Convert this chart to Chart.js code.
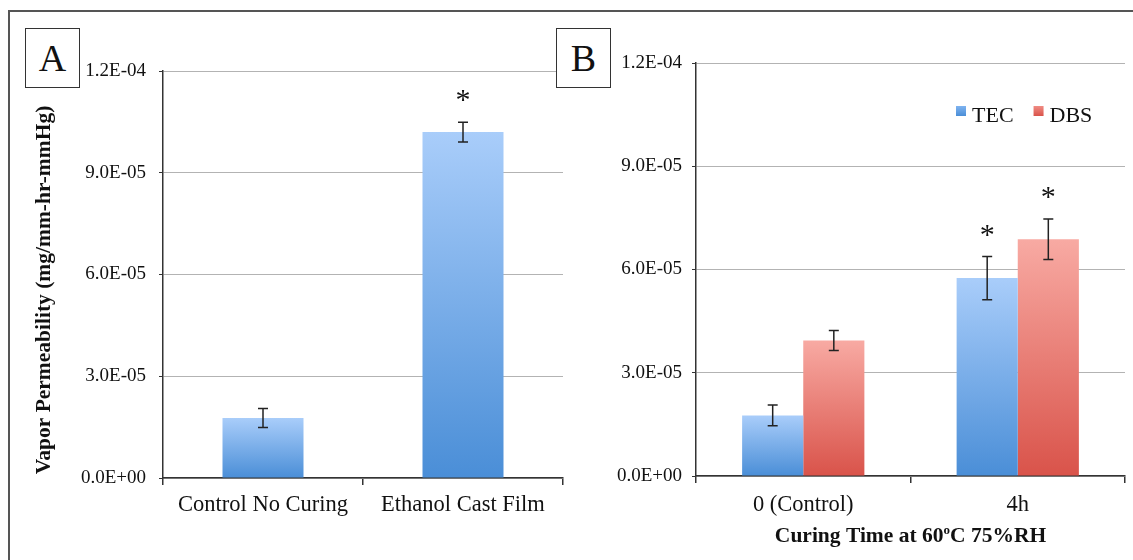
<!DOCTYPE html>
<html>
<head>
<meta charset="utf-8">
<script src="https://cdn.jsdelivr.net/npm/chart.js@4.4.1/dist/chart.umd.min.js"></script>
<style>
  html, body { margin: 0; padding: 0; background: #fff; width: 1133px; height: 560px; overflow: hidden; }
  #frame { position: absolute; left: 8px; top: 10px; width: 1140px; height: 600px; border: 2px solid #555; box-sizing: border-box; }
  .panel-tag { position: absolute; top: 28px; width: 55px; height: 60px; border: 1.5px solid #333; box-sizing: border-box;
               font-family: "Liberation Serif", serif; font-size: 38px; line-height: 58px; text-align: center; color: #111; background: #fff; }
  canvas { position: absolute; top: 0; }
</style>
</head>
<body>
<div id="frame"></div>
<canvas id="chartA" width="570" height="560" style="left:0px"></canvas>
<canvas id="chartB" width="558" height="560" style="left:575px"></canvas>
<div class="panel-tag" style="left:25px">A</div>
<div class="panel-tag" style="left:556px">B</div>

<script>
// ---- Panel A: film preparation ----
const categoriesA = ['Control No Curing', 'Ethanol Cast Film'];
const valuesA = [1.77e-5, 1.02e-4];
const errorsA = [2.8e-6, 2.9e-6];
const starsA = [false, true];

// ---- Panel B: curing time, per plasticizer ----
const categoriesB = ['0 (Control)', '4h'];
const seriesNamesB = ['TEC', 'DBS'];
const tecValues = [1.76e-5, 5.75e-5];
const tecErrors = [3.0e-6, 6.3e-6];
const tecStars = [false, true];
const dbsValues = [3.94e-5, 6.88e-5];
const dbsErrors = [2.9e-6, 5.9e-6];
const dbsStars = [false, true];

// ---- shared axis ----
const yTickValues = [0, 3e-5, 6e-5, 9e-5, 1.2e-4];
const yTitle = 'Vapor Permeability (mg/mm-hr-mmHg)';
const xTitleB = ['Curing Time at 60', 'o', 'C 75%RH'];

const SERIF = '"Liberation Serif", "Times New Roman", serif';
const BLUE = ['#a9cdfa', '#4a8ed7'];
const RED = ['#f8aaa3', '#d9534a'];

function sci(v) {
  const [m, e] = v.toExponential(1).split('e');
  const n = parseInt(e, 10);
  return m + 'E' + (n < 0 ? '-' : '+') + String(Math.abs(n)).padStart(2, '0');
}

function barGradient(colors) {
  return (c) => {
    const chart = c.chart;
    if (!chart.chartArea || c.type !== 'data') return colors[1];
    const y = chart.scales.y;
    const top = y.getPixelForValue(c.raw);
    const base = y.getPixelForValue(0);
    const g = chart.ctx.createLinearGradient(0, top, 0, base);
    g.addColorStop(0, colors[0]);
    g.addColorStop(1, colors[1]);
    return g;
  };
}

// error bars with caps, plus significance asterisks
const errorBarPlugin = {
  id: 'errorBars',
  afterDatasetsDraw(chart) {
    const ctx = chart.ctx;
    const y = chart.scales.y;
    chart.data.datasets.forEach((ds, i) => {
      const meta = chart.getDatasetMeta(i);
      meta.data.forEach((bar, j) => {
        const v = ds.data[j], e = ds.errors[j];
        const x = bar.x;
        const yt = y.getPixelForValue(v + e);
        const yb = y.getPixelForValue(v - e);
        ctx.save();
        ctx.strokeStyle = '#222';
        ctx.lineWidth = 1.5;
        ctx.beginPath();
        ctx.moveTo(x, yt); ctx.lineTo(x, yb);
        ctx.moveTo(x - 5, yt); ctx.lineTo(x + 5, yt);
        ctx.moveTo(x - 5, yb); ctx.lineTo(x + 5, yb);
        ctx.stroke();
        if (ds.stars[j]) {
          const size = 30;
          ctx.fillStyle = '#111';
          ctx.font = size + 'px ' + SERIF;
          ctx.textAlign = 'center';
          ctx.textBaseline = 'alphabetic';
          const cy = yt - 27;
          ctx.fillText('*', x, cy + 0.47 * size);
        }
        ctx.restore();
      });
    });
  }
};

function yScale(width, padding) {
  return {
    min: 0, max: 1.2e-4,
    afterBuildTicks: (s) => { s.ticks = yTickValues.map(v => ({ value: v })); },
    afterFit: (s) => { s.width = width; },
    grid: { color: '#b3b3b3', lineWidth: 1, tickColor: '#333', tickLength: 4 },
    border: { color: '#333', width: 1.5 },
    ticks: { callback: (v) => sci(v), color: '#111', padding: padding,
             font: { family: SERIF, size: 19 } }
  };
}

function xScale(height, padding) {
  return {
    offset: true,
    afterFit: (s) => { s.height = height; },
    grid: { display: true, drawOnChartArea: false, offset: true, tickColor: '#333', tickLength: 7, lineWidth: 1.5 },
    border: { color: '#333', width: 1.5 },
    ticks: { color: '#111', padding: padding, font: { family: SERIF, size: 22.5, lineHeight: 1.2 } }
  };
}

// rotated y-axis title for panel A
const yTitlePlugin = {
  id: 'yTitleA',
  afterDraw(chart) {
    const ctx = chart.ctx;
    ctx.save();
    ctx.translate(44, 290);
    ctx.rotate(-Math.PI / 2);
    ctx.font = 'bold 21.5px ' + SERIF;
    ctx.fillStyle = '#111';
    ctx.textAlign = 'center';
    ctx.textBaseline = 'middle';
    ctx.fillText(yTitle, 0, 0);
    ctx.restore();
  }
};

// x-axis title with superscript, and legend, for panel B
const panelBDecor = {
  id: 'panelBDecor',
  afterDraw(chart) {
    const ctx = chart.ctx;
    const area = chart.chartArea;
    ctx.save();
    ctx.fillStyle = '#111';
    ctx.textBaseline = 'alphabetic';
    ctx.textAlign = 'left';
    const main = 'bold 21.5px ' + SERIF, sup = 'bold 13px ' + SERIF;
    ctx.font = main;
    const w0 = ctx.measureText(xTitleB[0]).width;
    const w2 = ctx.measureText(xTitleB[2]).width;
    ctx.font = sup;
    const w1 = ctx.measureText(xTitleB[1]).width;
    let x = (area.left + area.right) / 2 - (w0 + w1 + w2) / 2;
    const base = 542;
    ctx.font = main; ctx.fillText(xTitleB[0], x, base); x += w0;
    ctx.font = sup; ctx.fillText(xTitleB[1], x, base - 8); x += w1;
    ctx.font = main; ctx.fillText(xTitleB[2], x, base);

    // legend
    ctx.font = '22px ' + SERIF;
    let lx = area.right - 169;
    const ly = 122;
    chart.data.datasets.forEach((ds) => {
      const g = ctx.createLinearGradient(0, ly - 16, 0, ly - 6);
      g.addColorStop(0, ds.legendColors[0]);
      g.addColorStop(1, ds.legendColors[1]);
      ctx.fillStyle = g;
      ctx.fillRect(lx, ly - 16, 10, 10);
      ctx.fillStyle = '#111';
      ctx.fillText(ds.label, lx + 16, ly);
      lx += 16 + ctx.measureText(ds.label).width + 20;
    });
    ctx.restore();
  }
};

new Chart(document.getElementById('chartA'), {
  type: 'bar',
  data: {
    labels: categoriesA,
    datasets: [{
      label: 'Vapor Permeability',
      data: valuesA, errors: errorsA, stars: starsA,
      backgroundColor: barGradient(BLUE), borderWidth: 0,
      categoryPercentage: 1.0, barPercentage: 0.405
    }]
  },
  options: {
    responsive: false, animation: false, devicePixelRatio: 1,
    layout: { padding: { left: 0, right: 7, top: 71, bottom: 0 } },
    plugins: { legend: { display: false }, tooltip: { enabled: false } },
    scales: { x: xScale(82, 7), y: yScale(163, 13) }
  },
  plugins: [errorBarPlugin, yTitlePlugin]
});

new Chart(document.getElementById('chartB'), {
  type: 'bar',
  data: {
    labels: categoriesB,
    datasets: [
      { label: seriesNamesB[0], data: tecValues, errors: tecErrors, stars: tecStars,
        backgroundColor: barGradient(BLUE), legendColors: ['#7fb3f0', '#4a8ed7'], borderWidth: 0,
        categoryPercentage: 0.57, barPercentage: 1.0 },
      { label: seriesNamesB[1], data: dbsValues, errors: dbsErrors, stars: dbsStars,
        backgroundColor: barGradient(RED), legendColors: ['#f08c84', '#d9534a'], borderWidth: 0,
        categoryPercentage: 0.57, barPercentage: 1.0 }
    ]
  },
  options: {
    responsive: false, animation: false, devicePixelRatio: 1,
    layout: { padding: { left: 0, right: 8, top: 63, bottom: 0 } },
    plugins: { legend: { display: false }, tooltip: { enabled: false } },
    scales: { x: xScale(84, 9), y: yScale(121, 10) }
  },
  plugins: [errorBarPlugin, panelBDecor]
});
</script>
</body>
</html>
